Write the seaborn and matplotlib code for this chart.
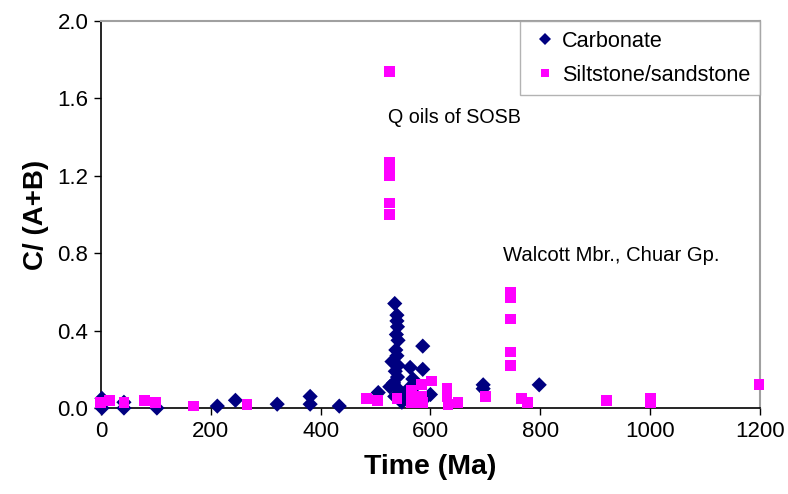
import matplotlib
matplotlib.use("Agg")
import matplotlib.pyplot as plt
import seaborn as sns
import pandas as pd

# Carbonate samples
carb_time = [2, 2, 42, 42, 102, 212, 245, 321, 381, 381, 434, 505, 526, 530, 535, 539, 539,
             540, 538, 541, 537, 539, 541, 536, 540, 533, 544, 548, 535, 563, 568, 560, 575,
             586, 586, 590, 600, 553, 696, 696, 798]
carb_ratio = [0.05, 0.0, 0.03, 0.0, 0.0, 0.01, 0.04, 0.02, 0.06, 0.02, 0.01, 0.08, 0.11, 0.24,
              0.54, 0.48, 0.45, 0.42, 0.38, 0.35, 0.30, 0.27, 0.22, 0.19, 0.16, 0.13, 0.09, 0.03,
              0.06, 0.21, 0.15, 0.10, 0.12, 0.32, 0.20, 0.05, 0.07, 0.05, 0.12, 0.10, 0.12]

# Siltstone/sandstone samples
silt_time = [0, 16, 42, 80, 100, 168, 266, 484, 503, 526, 526, 526, 526, 526, 526, 526, 539,
             566, 566, 566, 575, 584, 584, 586, 602, 630, 630, 632, 650, 700, 746, 746, 746,
             746, 746, 766, 777, 921, 1000, 1000, 1198]
silt_ratio = [0.03, 0.04, 0.03, 0.04, 0.03, 0.01, 0.02, 0.05, 0.04, 1.74, 1.27, 1.25, 1.22, 1.20,
              1.06, 1.00, 0.05, 0.09, 0.06, 0.03, 0.05, 0.12, 0.06, 0.03, 0.14, 0.10, 0.06, 0.02,
              0.03, 0.06, 0.60, 0.57, 0.46, 0.29, 0.22, 0.05, 0.03, 0.04, 0.05, 0.03, 0.12]

x_ticks = [0, 200, 400, 600, 800, 1000, 1200]
y_ticks = [0.0, 0.4, 0.8, 1.2, 1.6, 2.0]
y_tick_labels = ["0.0", "0.4", "0.8", "1.2", "1.6", "2.0"]

sns.set_theme(style="white")
plt.rcParams["font.family"] = ["Liberation Sans", "DejaVu Sans"]
plt.rcParams["text.color"] = "black"
plt.rcParams["axes.labelcolor"] = "black"
plt.rcParams["xtick.color"] = "black"
plt.rcParams["ytick.color"] = "black"

df = pd.DataFrame({
    "Time": carb_time + silt_time,
    "Ratio": carb_ratio + silt_ratio,
    "Lith": ["Carbonate"] * len(carb_time) + ["Siltstone/sandstone"] * len(silt_time),
})

fig = plt.figure(figsize=(7.88, 4.94), dpi=100)
ax = fig.add_axes([0.128, 0.174, 0.8365, 0.7835])

sns.scatterplot(data=df, x="Time", y="Ratio", hue="Lith", style="Lith",
                palette={"Carbonate": "#000080", "Siltstone/sandstone": "#FF00FF"},
                markers={"Carbonate": "D", "Siltstone/sandstone": "s"},
                s=60, linewidth=0, ax=ax, clip_on=False, zorder=3)

ax.set_xlim(0, 1200)
ax.set_ylim(0, 2.0)
ax.set_xticks(x_ticks)
ax.set_yticks(y_ticks)
ax.set_yticklabels(y_tick_labels)
ax.tick_params(axis="both", which="both", direction="out", length=5, width=1,
               color="black", labelcolor="black", labelsize=16, bottom=True, left=True, pad=4)

ax.set_xlabel("Time (Ma)", fontsize=20.5, fontweight="bold", color="black")
ax.set_ylabel("C/ (A+B)", fontsize=20, fontweight="bold", color="black")
ax.xaxis.set_label_coords(0.5, -0.12)
ax.yaxis.set_label_coords(-0.078, 0.5)

for s in ["left", "bottom"]:
    ax.spines[s].set_color("black")
    ax.spines[s].set_linewidth(1.2)
for s in ["top", "right"]:
    ax.spines[s].set_color("#A0A0A0")
    ax.spines[s].set_linewidth(1.5)

ax.text(523, 1.5, "Q oils of SOSB", fontsize=14.2, ha="left", va="center", color="black")
ax.text(732, 0.79, "Walcott Mbr., Chuar Gp.", fontsize=14.6, ha="left", va="center", color="black")

leg = ax.legend(loc="upper right", fontsize=15.6, frameon=True, fancybox=False,
                borderaxespad=0, handletextpad=0.1, labelspacing=0.6,
                borderpad=0.45, handlelength=1.4, markerscale=0.75)
leg.get_frame().set_edgecolor("#A0A0A0")
leg.get_frame().set_linewidth(1.0)
for t in leg.get_texts():
    t.set_color("black")

fig.savefig("out.png", dpi=100)
